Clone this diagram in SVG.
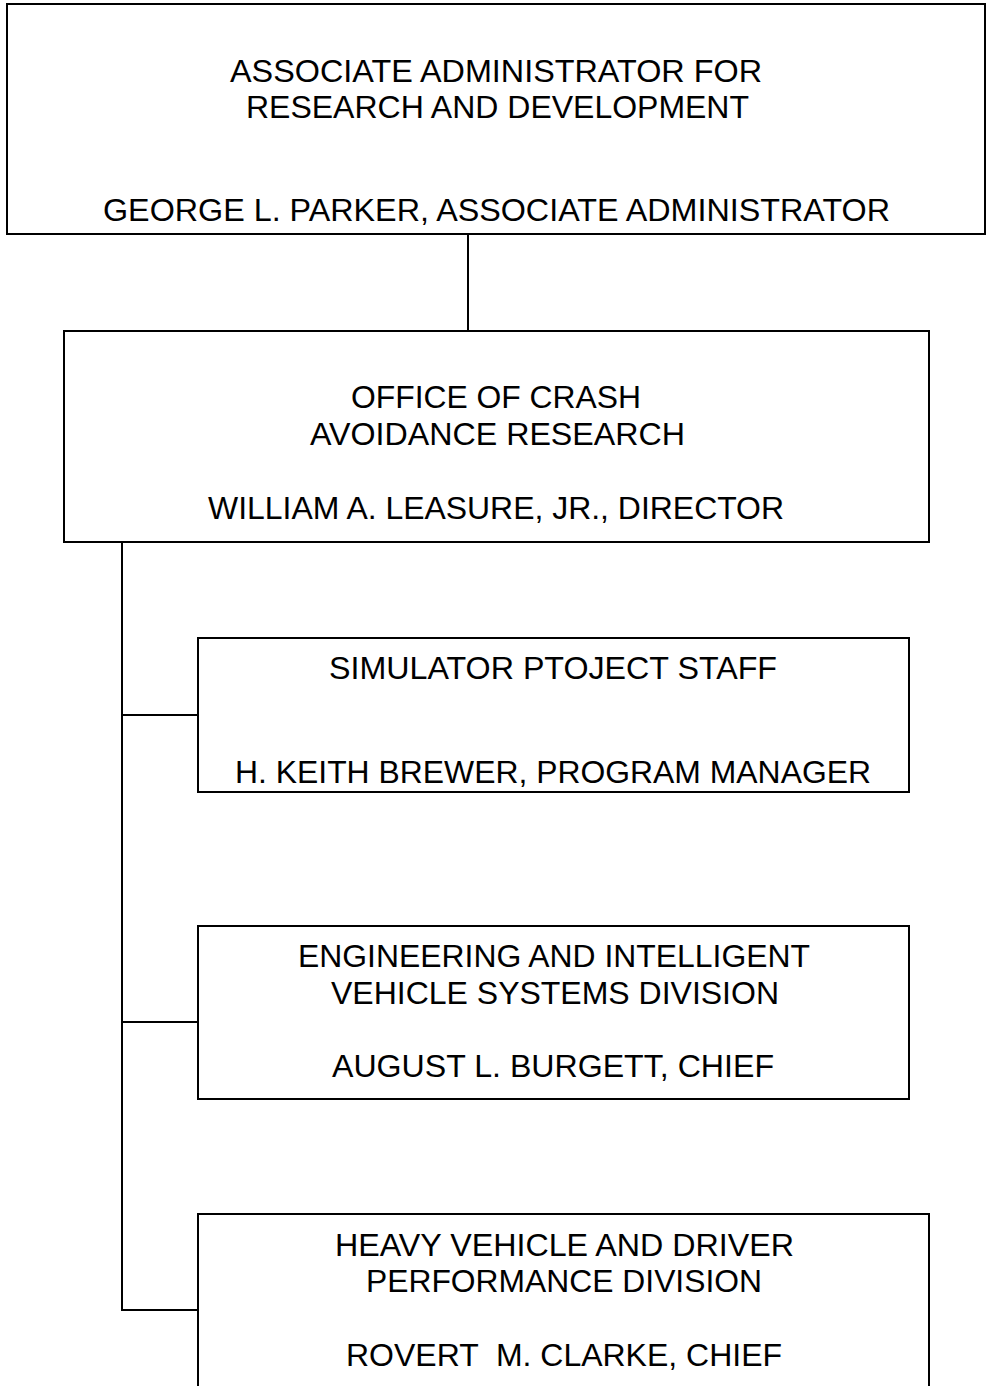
<svg xmlns="http://www.w3.org/2000/svg" width="988" height="1386" viewBox="0 0 988 1386">
<style>
.box{fill:#fff;stroke:#000;stroke-width:2}
.ln{fill:none;stroke:#000;stroke-width:2}
text{font-family:"Liberation Sans",Arial,sans-serif;font-size:32px;fill:#000}
</style>
<rect width="988" height="1386" fill="#fff"/>
<g id="connectors">
<line class="ln" x1="468" y1="234" x2="468" y2="331"/>
<polyline class="ln" points="122,542 122,1310 198,1310"/>
<line class="ln" x1="122" y1="715" x2="198" y2="715"/>
<line class="ln" x1="122" y1="1022" x2="198" y2="1022"/>
</g>
<g id="n-assoc">
<rect class="box" x="7" y="4" width="978" height="230"/>
<text x="230" y="82" textLength="532" lengthAdjust="spacingAndGlyphs">ASSOCIATE ADMINISTRATOR FOR</text>
<text x="246" y="118" textLength="503" lengthAdjust="spacingAndGlyphs">RESEARCH AND DEVELOPMENT</text>
<text x="103" y="221" textLength="787" lengthAdjust="spacingAndGlyphs">GEORGE L. PARKER, ASSOCIATE ADMINISTRATOR</text>
</g>
<g id="n-office">
<rect class="box" x="64" y="331" width="865" height="211"/>
<text x="351" y="408" textLength="290" lengthAdjust="spacingAndGlyphs">OFFICE OF CRASH</text>
<text x="310" y="445" textLength="375" lengthAdjust="spacingAndGlyphs">AVOIDANCE RESEARCH</text>
<text x="208" y="519" textLength="576" lengthAdjust="spacingAndGlyphs">WILLIAM A. LEASURE, JR., DIRECTOR</text>
</g>
<g id="n-simulator">
<rect class="box" x="198" y="638" width="711" height="154"/>
<text x="329" y="679" textLength="448" lengthAdjust="spacingAndGlyphs">SIMULATOR PTOJECT STAFF</text>
<text x="235" y="783" textLength="636" lengthAdjust="spacingAndGlyphs">H. KEITH BREWER, PROGRAM MANAGER</text>
</g>
<g id="n-engineering">
<rect class="box" x="198" y="926" width="711" height="173"/>
<text x="298" y="967" textLength="512" lengthAdjust="spacingAndGlyphs">ENGINEERING AND INTELLIGENT</text>
<text x="331" y="1004" textLength="448" lengthAdjust="spacingAndGlyphs">VEHICLE SYSTEMS DIVISION</text>
<text x="332" y="1077" textLength="442" lengthAdjust="spacingAndGlyphs">AUGUST L. BURGETT, CHIEF</text>
</g>
<g id="n-heavy">
<path class="ln" d="M198,1390 V1214 H929 V1390"/>
<text x="335" y="1256" textLength="459" lengthAdjust="spacingAndGlyphs">HEAVY VEHICLE AND DRIVER</text>
<text x="366" y="1292" textLength="396" lengthAdjust="spacingAndGlyphs">PERFORMANCE DIVISION</text>
<text x="346" y="1366" textLength="436" lengthAdjust="spacingAndGlyphs" xml:space="preserve">ROVERT  M. CLARKE, CHIEF</text>
</g>
</svg>
